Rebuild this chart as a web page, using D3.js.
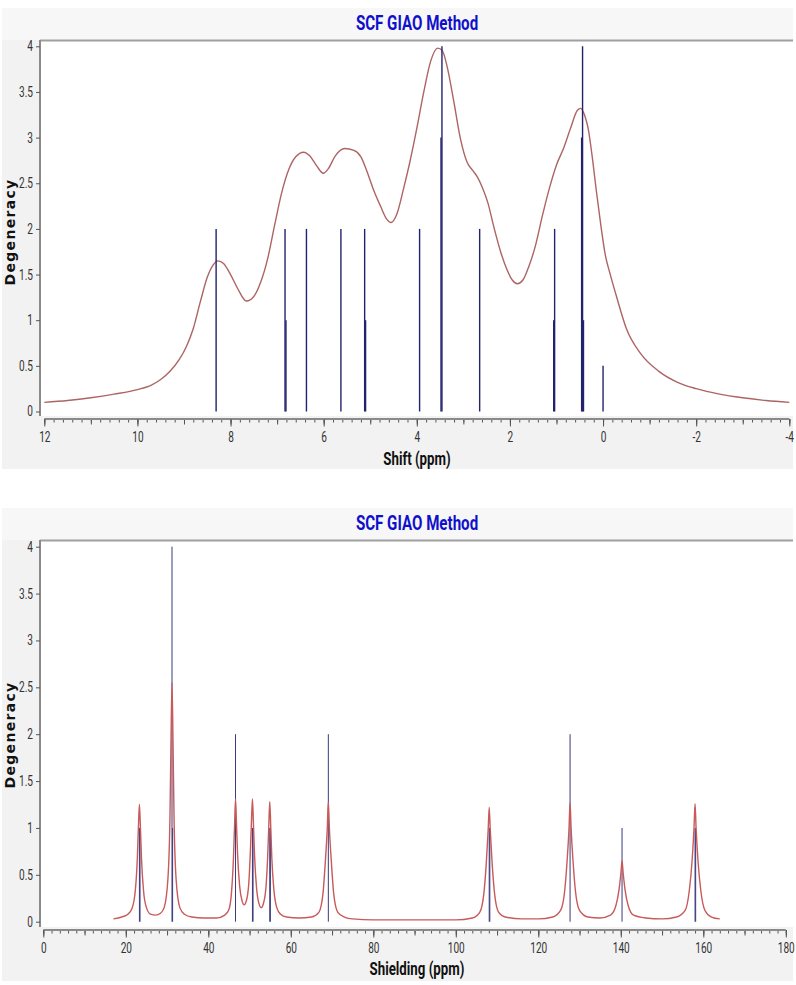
<!DOCTYPE html>
<html>
<head>
<meta charset="utf-8">
<script src="https://cdn.jsdelivr.net/npm/d3@7"></script>
<style>
  html, body { margin: 0; padding: 0; background: #ffffff; }
  svg { display: block; }
</style>
</head>
<body>
<svg id="chart" width="796" height="985"></svg>
<script>
// ---------------- DATA ----------------
const chartTitle = "SCF GIAO Method";
const yLabel = "Degeneracy";
const xLabelTop = "Shift (ppm)";
const xLabelBottom = "Shielding (ppm)";

// top chart (1H shift, ppm) : stick positions and degeneracies
const topStickShift = [8.31, 6.83, 6.81, 6.37, 5.63, 5.12, 5.10, 3.94, 3.46, 3.48, 2.65, 1.04, 1.06, 0.44, 0.46, 0.42, 0.0];
const topStickDeg   = [2,    2,    1,    2,    2,    2,    1,    2,    4,    3,    2,    2,    1,    4,    3,    1,    0.5];

// top chart broadened spectrum
const topCurveShift = [12.0, 11.5, 11.0, 10.5, 10.0, 9.7, 9.5, 9.3, 9.1, 8.95, 8.8, 8.65, 8.5, 8.38, 8.27, 8.15, 8.0, 7.85, 7.66, 7.5, 7.35, 7.2, 7.05, 6.9, 6.75, 6.6, 6.43, 6.3, 6.15, 6.01, 5.9, 5.75, 5.55, 5.35, 5.2, 5.07, 4.93, 4.78, 4.65, 4.55, 4.43, 4.28, 4.15, 4.0, 3.85, 3.7, 3.55, 3.45, 3.35, 3.2, 3.06, 2.92, 2.8, 2.7, 2.59, 2.47, 2.35, 2.2, 2.06, 1.95, 1.84, 1.72, 1.6, 1.45, 1.3, 1.15, 1.0, 0.85, 0.7, 0.55, 0.48, 0.4, 0.32, 0.23, 0.15, 0.05, -0.05, -0.15, -0.3, -0.5, -0.8, -1.2, -1.6, -2.0, -2.5, -3.0, -3.5, -4.0];
const topCurveValue = [0.10, 0.12, 0.15, 0.19, 0.24, 0.29, 0.35, 0.44, 0.57, 0.71, 0.91, 1.20, 1.47, 1.60, 1.65, 1.62, 1.50, 1.35, 1.21, 1.26, 1.42, 1.68, 2.05, 2.40, 2.65, 2.79, 2.84, 2.80, 2.69, 2.61, 2.66, 2.80, 2.88, 2.86, 2.79, 2.63, 2.43, 2.25, 2.11, 2.07, 2.16, 2.45, 2.73, 3.10, 3.50, 3.84, 3.98, 3.95, 3.78, 3.38, 2.98, 2.73, 2.64, 2.57, 2.45, 2.28, 2.03, 1.75, 1.55, 1.44, 1.40, 1.44, 1.58, 1.82, 2.15, 2.45, 2.70, 2.88, 3.10, 3.30, 3.32, 3.25, 3.10, 2.78, 2.44, 2.05, 1.71, 1.51, 1.24, 0.91, 0.64, 0.44, 0.32, 0.25, 0.19, 0.15, 0.12, 0.10];

// bottom chart (13C shielding, ppm) : sticks
const botStickShield = [23.3, 23.45, 31.2, 31.35, 46.6, 50.7, 50.85, 54.9, 55.05, 69.1, 108.1, 108.25, 127.7, 140.3, 158.0, 158.15];
const botStickDeg    = [1,    1,     4,    1,     2,    1,    1,     1,    1,     2,    1,     1,      2,     1,     1,     1];

// bottom chart broadened spectrum
const botCurveShield = [17.0, 19.0, 20.5, 21.5, 22.3, 22.8, 23.05, 23.3, 23.55, 23.8, 24.3, 25.0, 26.0, 27.2, 28.4, 29.3, 30.2, 30.7, 30.95, 31.2, 31.45, 31.7, 32.2, 33.1, 34.2, 36, 39, 42, 44, 45.0, 45.6, 46.1, 46.35, 46.6, 46.85, 47.1, 47.6, 48.2, 48.7, 49.2, 49.8, 50.2, 50.45, 50.7, 50.95, 51.2, 51.7, 52.3, 52.8, 53.4, 54.0, 54.4, 54.65, 54.9, 55.15, 55.4, 55.9, 56.6, 57.5, 59, 62, 65, 66.8, 67.8, 68.4, 68.85, 69.1, 69.35, 69.8, 70.4, 71.4, 73, 75, 80, 90, 100, 104, 105.8, 106.8, 107.4, 107.85, 108.1, 108.35, 108.8, 109.4, 110.4, 112, 116, 120, 123.5, 125.4, 126.4, 127.0, 127.45, 127.7, 127.95, 128.4, 129.0, 130.0, 132, 135, 137.5, 138.8, 139.6, 140.05, 140.3, 140.55, 141.0, 141.8, 143.1, 146, 150, 153.5, 155.6, 156.6, 157.3, 157.75, 158.0, 158.25, 158.7, 159.4, 160.4, 162, 164];
const botCurveValue  = [0.03, 0.05, 0.08, 0.14, 0.33, 0.68, 1.0, 1.25, 1.0, 0.68, 0.33, 0.15, 0.08, 0.07, 0.09, 0.15, 0.45, 1.1, 1.9, 2.55, 1.9, 1.1, 0.45, 0.15, 0.08, 0.05, 0.04, 0.04, 0.07, 0.13, 0.3, 0.68, 1.0, 1.31, 1.02, 0.72, 0.38, 0.22, 0.18, 0.22, 0.4, 0.75, 1.05, 1.31, 1.03, 0.72, 0.36, 0.19, 0.15, 0.2, 0.38, 0.7, 1.0, 1.28, 1.0, 0.68, 0.34, 0.15, 0.08, 0.05, 0.04, 0.05, 0.1, 0.3, 0.66, 1.0, 1.28, 1.0, 0.66, 0.3, 0.1, 0.05, 0.03, 0.02, 0.02, 0.02, 0.04, 0.1, 0.3, 0.63, 0.98, 1.22, 0.98, 0.63, 0.3, 0.1, 0.05, 0.03, 0.03, 0.05, 0.12, 0.33, 0.66, 1.0, 1.27, 1.0, 0.66, 0.33, 0.12, 0.05, 0.04, 0.07, 0.17, 0.35, 0.53, 0.65, 0.53, 0.35, 0.17, 0.07, 0.04, 0.03, 0.05, 0.12, 0.33, 0.66, 1.0, 1.26, 1.0, 0.66, 0.33, 0.12, 0.05, 0.03];

const yTicks = [0, 0.5, 1, 1.5, 2, 2.5, 3, 3.5, 4];
const topXMajor = [12, 10, 8, 6, 4, 2, 0, -2, -4];
const botXMajor = [0, 20, 40, 60, 80, 100, 120, 140, 160, 180];

// ---------------- DRAWING ----------------
const svg = d3.select("#chart");
const FONT = 'Roboto, "Liberation Sans", Arial, sans-serif';
const SQ = 0.72;       // horizontal squeeze for the condensed tick font
const SQ_T = 0.72;     // squeeze for the title

function panel(cfg) {
  const g = svg.append("g");
  // panel background
  g.append("rect").attr("x", 2).attr("y", cfg.top).attr("width", 791).attr("height", cfg.height).attr("fill", "#f2f2f2");
  g.append("rect").attr("x", 2).attr("y", cfg.top).attr("width", 791).attr("height", 32).attr("fill", "#f7f7f7");
  // plot area
  const plotTop = cfg.top + 33;
  g.append("rect").attr("x", 41).attr("y", plotTop).attr("width", 752).attr("height", cfg.plotBottom - plotTop).attr("fill", "#ffffff");
  g.append("line").attr("x1", 40).attr("x2", 793).attr("y1", plotTop - 0.5).attr("y2", plotTop - 0.5)
    .attr("stroke", "#a0a0a0").attr("stroke-width", 2);

  // title
  g.append("text").attr("transform", `translate(417,${cfg.top + 22}) scale(${SQ_T},1)`).attr("text-anchor", "middle")
    .attr("font-family", FONT).attr("font-weight", "bold").attr("font-size", 21)
    .attr("fill", "#1010cc").text(chartTitle);

  const x = d3.scaleLinear().domain(cfg.xDomain).range(cfg.xRange);
  const y = d3.scaleLinear().domain([0, 4]).range(cfg.yRange);

  // y axis
  const ya = g.append("g").attr("transform", "translate(40,0)")
    .call(d3.axisLeft(y).tickValues(yTicks).tickSize(4).tickPadding(3).tickFormat(d => String(d)));
  ya.select(".domain").attr("stroke", "#8a8a8a").attr("stroke-width", 2)
    .attr("d", `M0,${plotTop - 1}V${cfg.plotBottom}`);
  ya.selectAll(".tick line").attr("stroke", "#555");
  ya.selectAll(".tick text").attr("font-size", 14).attr("fill", "#333").attr("font-family", FONT)
    .attr("x", -7 / SQ).attr("transform", `scale(${SQ},1)`);

  // x axis: minor, mid, major ticks
  const [d0, d1] = cfg.xDomain;
  const lo = Math.min(d0, d1), hi = Math.max(d0, d1);
  const minorVals = d3.range(0, Math.round((hi - lo) / cfg.minorStep) + 1).map(i => +(lo + i * cfg.minorStep).toFixed(4));
  const midVals = d3.range(0, Math.round((hi - lo) / cfg.midStep) + 1).map(i => +(lo + i * cfg.midStep).toFixed(4));
  const xg = g.append("g").attr("transform", `translate(0,${cfg.axisY})`);
  xg.append("g").call(d3.axisBottom(x).tickValues(minorVals).tickSize(3.5).tickFormat(""))
    .call(s => s.select(".domain").remove()).selectAll("line").attr("stroke", "#555");
  xg.append("g").call(d3.axisBottom(x).tickValues(midVals).tickSize(5.5).tickFormat(""))
    .call(s => s.select(".domain").remove()).selectAll("line").attr("stroke", "#555");
  const xm = xg.append("g").call(d3.axisBottom(x).tickValues(cfg.xMajor).tickSize(7.5).tickPadding(6).tickFormat(d => String(d)));
  xm.select(".domain").attr("stroke", "#8a8a8a").attr("stroke-width", 2).attr("d", `M${cfg.xRange[0]},0H${cfg.xRange[1]}`);
  xm.selectAll(".tick line").attr("stroke", "#555");
  xm.selectAll(".tick text").attr("font-size", 14).attr("fill", "#333").attr("font-family", FONT)
    .attr("transform", `scale(${SQ},1)`);

  // axis titles
  g.append("text").attr("transform", `translate(417,${cfg.xTitleY}) scale(0.7,1)`).attr("text-anchor", "middle")
    .attr("font-family", FONT).attr("font-weight", "bold").attr("font-size", 19).attr("fill", "#111")
    .text(cfg.xLabel);
  g.append("text").attr("transform", `translate(15,${cfg.yTitleC}) rotate(-90)`).attr("text-anchor", "middle")
    .attr("font-family", '"DejaVu Sans", Verdana, sans-serif').attr("font-weight", "bold").attr("font-size", 14)
    .attr("letter-spacing", 1.3).attr("fill", "#111").text(yLabel);

  const line = d3.line().x(d => x(d[0])).y(d => y(d[1])).curve(d3.curveMonotoneX);
  const curvePts = cfg.curveX.map((v, i) => [v, cfg.curveY[i]]).sort((a, b) => x(a[0]) - x(b[0]));
  const sticks = cfg.stickX.map((v, i) => ({ p: v, d: cfg.stickY[i] }));

  const drawSticks = () => g.append("g").selectAll("line").data(sticks).join("line")
    .attr("x1", d => x(d.p)).attr("x2", d => x(d.p))
    .attr("y1", y(0)).attr("y2", d => y(d.d))
    .attr("stroke", cfg.stickColor).attr("stroke-width", cfg.stickWidth);
  const drawCurve = () => g.append("path").datum(curvePts).attr("d", line)
    .attr("fill", "none").attr("stroke", cfg.curveColor).attr("stroke-width", 1.4);

  if (cfg.sticksOnTop) { drawCurve(); drawSticks(); } else { drawSticks(); drawCurve(); }
}

panel({
  top: 8, height: 461, plotBottom: 416, axisY: 419,
  xDomain: [12, -4], xRange: [44.3, 789.3], yRange: [411.5, 46.3],
  minorStep: 0.2, midStep: 1, xMajor: topXMajor,
  xTitleY: 465, yTitleC: 232, xLabel: xLabelTop,
  curveX: topCurveShift, curveY: topCurveValue,
  stickX: topStickShift, stickY: topStickDeg,
  stickColor: "#22226e", stickWidth: 1.4, curveColor: "#ad6464", sticksOnTop: true
});

panel({
  top: 508, height: 473, plotBottom: 927, axisY: 930,
  xDomain: [0, 180], xRange: [43.3, 785.8], yRange: [921.7, 546.7],
  minorStep: 2, midStep: 10, xMajor: botXMajor,
  xTitleY: 975, yTitleC: 735, xLabel: xLabelBottom,
  curveX: botCurveShield, curveY: botCurveValue,
  stickX: botStickShield, stickY: botStickDeg,
  stickColor: "#3a3a7e", stickWidth: 1, curveColor: "#c85a5a", sticksOnTop: false
});
</script>
</body>
</html>
